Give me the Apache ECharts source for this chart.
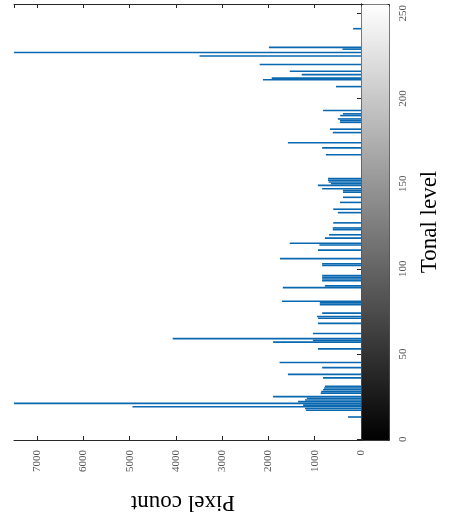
<!DOCTYPE html>
<html><head><meta charset="utf-8">
<script src="https://cdn.jsdelivr.net/npm/echarts@6/dist/echarts.min.js"></script>
<style>html,body{margin:0;padding:0;background:#fff}#c{width:451px;height:525px}</style>
</head><body><div id="c"></div>
<script>
// Tonal levels (0..255) that have a non-zero pixel count, and their counts
const tonalLevels = [13,17,18,19,20,21,22,23,24,25,27,28,29,30,31,36,38,42,45,53,57,58,59,62,68,71,72,74,79,80,81,89,90,93,94,95,96,102,103,106,111,114,115,118,120,123,124,127,133,135,139,142,145,146,147,149,150,151,152,153,167,171,174,180,182,186,187,188,190,191,193,207,211,212,214,216,220,225,227,229,230,241];
const pixelCounts = [280,1190,1210,4940,1250,7500,1360,1210,1170,1900,870,860,820,800,780,820,1580,840,1760,930,1900,1040,4070,1040,930,930,950,840,890,890,1710,1690,780,840,840,840,840,840,840,1750,930,900,1540,780,690,610,610,600,500,600,455,390,390,390,840,930,650,700,714,714,760,840,1580,610,670,455,455,500,450,390,820,540,2120,1930,1280,1540,2190,3490,7500,400,1990,170];
const tonalTicks = [0,50,100,150,200,250];
const countTicks = [0,1000,2000,3000,4000,5000,6000,7000];
const levelMax = 255;
const countMax = 7500;

const levels = [];
for (let i = 0; i <= levelMax; i++) levels.push(String(i));
const counts = levels.map(() => 0);
tonalLevels.forEach((l, i) => { counts[l] = pixelCounts[i]; });

const axisColor = '#262626';
const labelFont = {color:'#555', fontFamily:'Liberation Serif', fontSize:11};
const tickIdx = (i) => tonalTicks.includes(i);

const chart = echarts.init(document.getElementById('c'), null, {renderer:'canvas'});
const option = {
  animation:false,
  backgroundColor:'#fff',
  grid:{left:14, right:90, top:4, bottom:85, containLabel:false},
  xAxis:[
    {type:'value', min:0, max:countMax, interval:1000, inverse:true, position:'bottom',
     axisLine:{show:true, lineStyle:{color:axisColor, width:1}},
     axisTick:{show:true, inside:true, length:4, lineStyle:{color:axisColor}},
     axisLabel:Object.assign({rotate:90, margin:10, showMaxLabel:false,
        formatter:(v)=> countTicks.includes(v) ? String(v) : ''}, labelFont),
     splitLine:{show:false}},
    {type:'value', min:0, max:countMax, interval:1000, inverse:true, position:'top',
     axisLine:{show:true, lineStyle:{color:axisColor, width:1}},
     axisTick:{show:true, inside:true, length:4, lineStyle:{color:axisColor}},
     axisLabel:{show:false}, splitLine:{show:false}}
  ],
  yAxis:[
    {type:'category', data:levels, position:'right', boundaryGap:true,
     axisLine:{show:true, lineStyle:{color:axisColor, width:1}},
     axisTick:{show:true, inside:true, length:4, alignWithLabel:true, interval:tickIdx, lineStyle:{color:axisColor}},
     axisLabel:Object.assign({interval:tickIdx, rotate:90, margin:37}, labelFont),
     splitLine:{show:false}},
    {type:'category', data:levels, position:'left', boundaryGap:true,
     axisLine:{show:true, lineStyle:{color:axisColor, width:1}},
     axisTick:{show:true, inside:true, length:4, alignWithLabel:true, interval:tickIdx, lineStyle:{color:axisColor}},
     axisLabel:{show:false}, splitLine:{show:false}}
  ],
  visualMap:{type:'continuous', min:0, max:levelMax, seriesIndex:1, orient:'vertical',
    left:361, top:4, itemWidth:28, itemHeight:436, padding:0, calculable:false,
    text:null, borderColor:axisColor, borderWidth:1,
    inRange:{color:['#000000','#ffffff']}},
  series:[
    {type:'bar', data:counts, xAxisIndex:0, yAxisIndex:0, barCategoryGap:'5%',
     itemStyle:{color:'#0a68b0'}, silent:true},
    {type:'scatter', data:[], xAxisIndex:0, yAxisIndex:0}
  ],
  graphic:[
    {type:'text', x:183, y:502, rotation:Math.PI,
     style:{text:'Pixel count', fontFamily:'Liberation Serif', fontSize:23, fill:'#000', align:'center', verticalAlign:'middle'}},
    {type:'text', x:430, y:222, rotation:Math.PI/2,
     style:{text:'Tonal level', fontFamily:'Liberation Serif', fontSize:23, fill:'#000', align:'center', verticalAlign:'middle'}}
  ]
};
chart.setOption(option);
</script>
</body></html>
